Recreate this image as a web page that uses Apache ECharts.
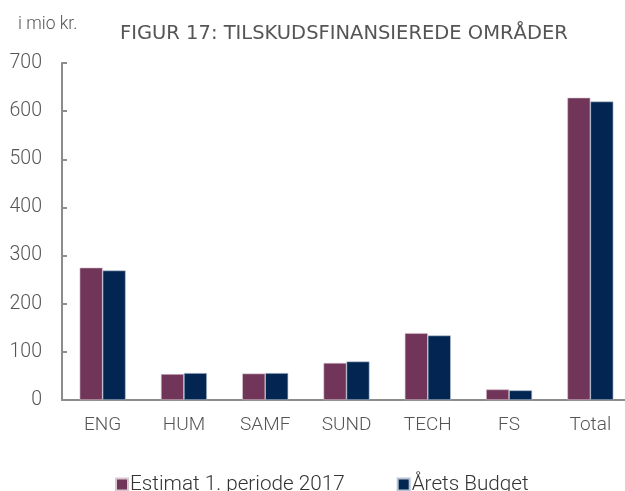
<!DOCTYPE html>
<html>
<head>
<meta charset="utf-8">
<script src="https://cdn.jsdelivr.net/npm/echarts@6/dist/echarts.min.js"></script>
<style>
  html, body { margin: 0; padding: 0; background: #fff; overflow: hidden; }
  #chart { width: 632px; height: 491px; }
</style>
</head>
<body>
<div id="chart"></div>
<script>
const categories = ['ENG', 'HUM', 'SAMF', 'SUND', 'TECH', 'FS', 'Total'];
const estimat = [275, 54, 55, 77, 139, 22, 628];
const budget = [269, 56, 56, 80, 134, 20, 620];
const yTicks = [0, 100, 200, 300, 400, 500, 600, 700];

const FONT = 'Roboto';
const chart = echarts.init(document.getElementById('chart'));

const option = {
  animation: false,
  textStyle: { fontFamily: FONT },
  title: [
    {
      text: 'FIGUR 17: TILSKUDSFINANSIEREDE OMRÅDER',
      left: 115,
      top: 19,
      textStyle: { fontSize: 19.5, fontWeight: 'normal', color: '#555', fontFamily: 'DejaVu Sans' }
    },
    {
      text: 'i mio kr.',
      left: 13,
      top: 11,
      textStyle: { fontSize: 17.5, fontWeight: 300, color: '#555', fontFamily: FONT }
    }
  ],
  legend: {
    bottom: -9,
    left: 110,
    itemWidth: 12,
    itemHeight: 12,
    itemGap: 52,
    icon: 'rect',
    textStyle: { fontSize: 20.7, fontWeight: 300, color: '#333', padding: [0, 0, 0, -3] },
    data: ['Estimat 1. periode 2017', 'Årets Budget']
  },
  grid: {
    left: 62,
    top: 63,
    width: 569,
    height: 337,
    containLabel: false
  },
  xAxis: {
    type: 'category',
    data: categories,
    axisLine: { lineStyle: { color: '#8c8c8c', width: 2 } },
    axisTick: { inside: true, length: 6, lineStyle: { color: '#8c8c8c', width: 2 } },
    axisLabel: { fontSize: 19, fontWeight: 300, color: '#555', margin: 16 }
  },
  yAxis: {
    type: 'value',
    min: yTicks[0],
    max: yTicks[yTicks.length - 1],
    interval: 100,
    splitLine: { show: false },
    axisLine: { show: true, lineStyle: { color: '#8c8c8c', width: 2 } },
    axisTick: { show: true, inside: true, length: 5, lineStyle: { color: '#8c8c8c', width: 2 } },
    axisLabel: { fontSize: 19.5, fontWeight: 300, color: '#555', margin: 20 }
  },
  series: [
    {
      name: 'Estimat 1. periode 2017',
      type: 'bar',
      data: estimat,
      barWidth: 23,
      barGap: '0%',
      itemStyle: { color: '#703558', borderColor: '#d8c8d0', borderWidth: 0.6 }
    },
    {
      name: 'Årets Budget',
      type: 'bar',
      data: budget,
      barWidth: 23,
      barGap: '0%',
      itemStyle: { color: '#022552', borderColor: '#b8c4d4', borderWidth: 0.6 }
    }
  ]
};

chart.setOption(option);
</script>
</body>
</html>
